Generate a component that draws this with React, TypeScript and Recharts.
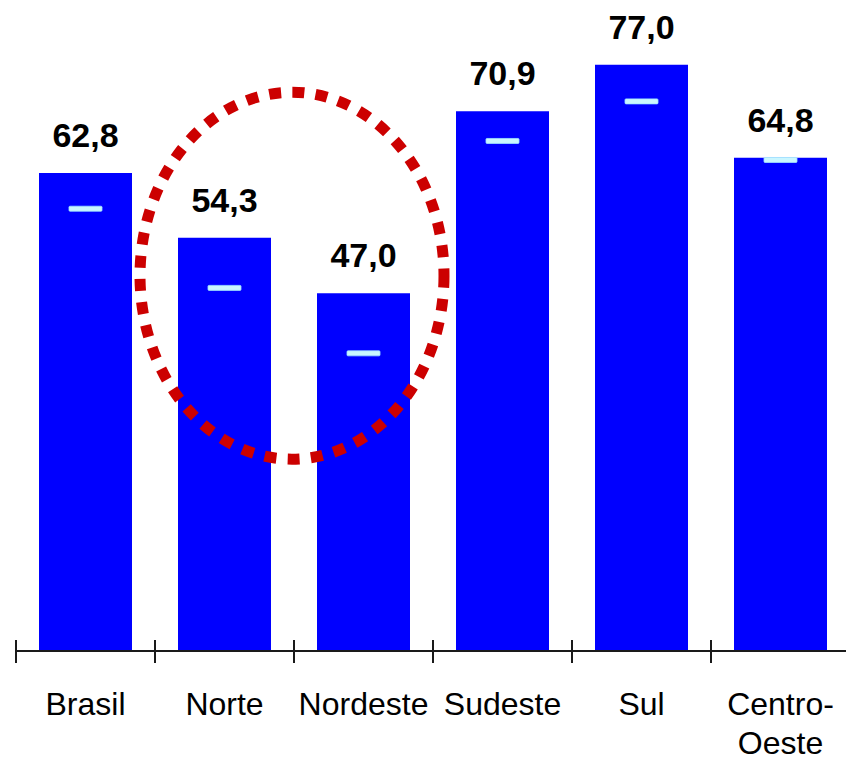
import { ComposedChart, Bar, Scatter, XAxis, YAxis, LabelList, ReferenceArea } from 'recharts'

const regions = ['Brasil', 'Norte', 'Nordeste', 'Sudeste', 'Sul', 'Centro-Oeste']
const current = [62.8, 54.3, 47.0, 70.9, 77.0, 64.8]
const previous = [58.1, 47.7, 39.1, 67.0, 72.2, 64.5]
const yDomain = [0, 80]

const WIDTH = 850
const HEIGHT = 761
const MARGIN = { top: 42, right: 0, bottom: 0, left: 16 }
const BAND = (WIDTH - MARGIN.left - MARGIN.right) / regions.length

const data = regions.map((name, i) => ({ name, value: current[i], prev: previous[i] }))

const fmt = (v: number) => v.toFixed(1).replace('.', ',')

// category label plus a boundary tick on the left edge of each band
function RegionTick(props: any) {
  const { x, y, payload, index } = props
  const left = x - BAND / 2
  const parts = String(payload.value).includes('-')
    ? [payload.value.split('-')[0] + '-', payload.value.split('-')[1]]
    : [payload.value]
  return (
    <g>
      <line x1={left} x2={left} y1={y - 11} y2={y + 12} stroke="#1a1a1a" strokeWidth={2} />
      {index === regions.length - 1 && (
        <line x1={left + BAND} x2={left + BAND} y1={y - 11} y2={y + 12} stroke="#1a1a1a" strokeWidth={2} />
      )}
      <text x={x} y={y + 64} textAnchor="middle" fontSize={32} fill="#000"
        fontFamily="'Liberation Sans', Arial, sans-serif">
        {parts.map((p, i) => (
          <tspan key={p} x={x} dy={i === 0 ? 0 : 39}>{p}</tspan>
        ))}
      </text>
    </g>
  )
}

const PrevMarker = (props: any) => (
  <rect x={props.cx - 16.5} y={props.cy - 2.5} width={33} height={5} rx={1}
    fill="#c9f6ff" stroke="#9fe3ff" strokeWidth={0.8} />
)

const DottedRing = (props: any) => {
  const { x, y, width, height } = props
  return (
    <ellipse cx={x + width / 2 - 2} cy={y + height / 2} rx={width / 2 + 13} ry={height / 2}
      fill="none" stroke="#cc0000" strokeWidth={11} strokeDasharray="12 11.3" />
  )
}

export default function App() {
  return (
    <div style={{ position: 'absolute', left: 0, top: 0, width: 846, height: HEIGHT, overflow: 'hidden', background: '#fff' }}>
      <ComposedChart width={WIDTH} height={HEIGHT} data={data} margin={MARGIN}>
        <XAxis dataKey="name" height={HEIGHT - 651} axisLine={{ stroke: '#1a1a1a', strokeWidth: 2 }}
          tickLine={false} tickSize={0} tickMargin={0} tick={<RegionTick />} interval={0} />
        <YAxis hide domain={yDomain} />
        <Bar dataKey="value" fill="#0000ff" barSize={93} isAnimationActive={false}>
          <LabelList dataKey="value" position="top" offset={26} formatter={(v: any) => fmt(Number(v))}
            style={{ fontSize: 34, fontWeight: 'bold', fill: '#000', fontFamily: "'Liberation Sans', Arial, sans-serif" }} />
        </Bar>
        <Scatter dataKey="prev" shape={<PrevMarker />} isAnimationActive={false} />
        <ReferenceArea x1="Norte" x2="Nordeste" y1={25.2} y2={73.4} shape={<DottedRing />}
          ifOverflow="visible" zIndex={2000} />
      </ComposedChart>
    </div>
  )
}
